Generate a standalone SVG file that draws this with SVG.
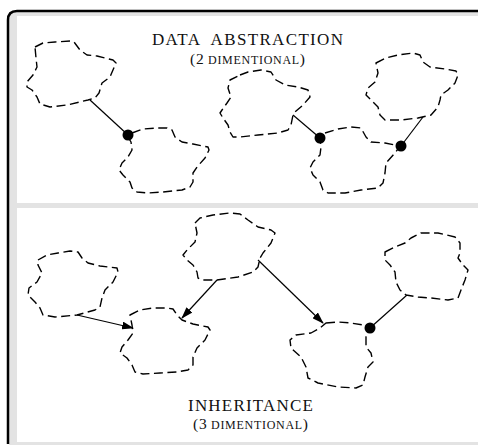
<svg xmlns="http://www.w3.org/2000/svg" width="478" height="445" viewBox="0 0 478 445">
<style>
.cloud{fill:none;stroke:#000;stroke-width:1.4;stroke-dasharray:9 4.5;stroke-linejoin:round;stroke-linecap:butt}
.link{stroke:#000;stroke-width:1.2;fill:none}
.dot{fill:#000}
.t{font-family:"Liberation Serif","Times New Roman",serif;fill:#111}
</style>
<defs>
<marker id="ah" markerWidth="12" markerHeight="8" refX="11" refY="4" orient="auto" markerUnits="userSpaceOnUse">
<path d="M0,0 L12,4 L0,8 Z" fill="#000"/>
</marker>
</defs>
<g id="frame">
<rect x="9" y="12" width="469" height="433" fill="#e3e3e3"/>
<rect x="17" y="16" width="461" height="187" fill="#fff"/>
<rect x="17" y="208" width="461" height="234" fill="#fff"/>
<path d="M8,444 L8,20 Q8,11 17,11 L478,11" fill="none" stroke="#000" stroke-width="2.5"/>
</g>
<g id="connectors">
<line class="link" x1="90" y1="100" x2="128" y2="135"/>
<line class="link" x1="293" y1="115" x2="320" y2="138"/>
<line class="link" x1="423" y1="117" x2="401" y2="146"/>
<line class="link" x1="77" y1="315" x2="133" y2="328" marker-end="url(#ah)"/>
<line class="link" x1="217" y1="280" x2="182" y2="318" marker-end="url(#ah)"/>
<line class="link" x1="258" y1="260" x2="323" y2="323" marker-end="url(#ah)"/>
<line class="link" x1="407" y1="295" x2="370" y2="328"/>
<circle class="dot" cx="128" cy="135" r="5.5"/>
<circle class="dot" cx="320" cy="138" r="5.5"/>
<circle class="dot" cx="401" cy="146" r="5.5"/>
<circle class="dot" cx="370" cy="328" r="5.5"/>
</g>
<g id="cloudA"><polygon class="cloud" points="35,47 43,43 55,42 70,41 74,42 80,50 87,55 97,56 113,60 116,63 110,77 102,83 99,93 95,98 88,100 67,105 50,107 40,104 37,97 32,90 27,87 27,82 33,75 37,67 36,58"/></g>
<g id="cloudB"><polygon class="cloud" points="132,133 143,129 157,128 167,128 172,130 175,137 182,142 193,144 208,147 209,150 205,158 197,167 193,173 193,182 190,187 182,190 163,192 147,193 137,192 132,188 130,182 123,175 119,170 122,163 128,157 132,150 131,142 128,137"/></g>
<g id="cloudC"><polygon class="cloud" points="240,75 248,72 261,70 271,72 276,80 285,85 298,87 308,90 310,97 303,105 295,112 293,115 291,125 288,130 278,133 258,135 240,137 233,137 230,132 228,125 223,118 220,113 222,110 227,103 231,97 228,88 230,80"/></g>
<g id="cloudD"><polygon class="cloud" points="325,133 338,129 351,127 361,128 366,137 371,142 385,143 400,146 395,153 386,163 385,173 383,183 378,188 361,190 345,193 328,193 323,190 320,182 313,175 310,168 313,162 320,155 321,147 320,140"/></g>
<g id="cloudE"><polygon class="cloud" points="376,63 386,58 398,55 413,53 420,55 423,62 430,67 445,69 456,71 458,75 455,83 448,90 441,95 440,100 438,107 431,115 418,118 401,120 385,120 380,115 378,107 371,100 366,95 368,88 375,82 378,73"/></g>
<g id="cloudF"><polygon class="cloud" points="38,260 47,255 58,253 70,251 78,252 82,258 88,263 100,266 117,268 118,272 113,282 105,290 102,298 100,307 95,310 77,315 55,317 43,315 40,308 35,302 28,295 29,288 37,282 42,273 38,265"/></g>
<g id="cloudG"><polygon class="cloud" points="130,315 140,310 153,308 167,308 173,309 177,315 182,320 193,324 208,327 210,330 205,340 197,348 193,357 193,365 188,370 177,372 160,373 143,374 135,372 132,365 127,358 120,353 122,347 128,340 133,333 132,325"/></g>
<g id="cloudH"><polygon class="cloud" points="195,223 200,218 213,215 230,213 240,214 248,220 258,227 271,230 275,233 271,243 263,253 260,258 258,267 253,272 238,277 217,280 202,280 198,278 197,272 193,265 187,260 183,255 187,250 195,242 197,233"/></g>
<g id="cloudI"><polygon class="cloud" points="326,323 338,322 351,323 363,325 370,328 366,337 366,347 371,353 373,362 368,367 365,377 363,385 356,388 338,387 318,383 308,378 306,367 301,357 291,348 290,340 296,335 311,333 320,328"/></g>
<g id="cloudJ"><polygon class="cloud" points="385,252 395,247 405,243 411,238 421,233 438,233 455,237 460,243 460,253 458,258 463,265 468,270 465,280 461,290 458,298 448,300 431,298 418,297 406,295 400,290 396,282 395,272 390,265 385,260"/></g>
<g id="labels">
<text class="t" x="152" y="45" font-size="17" textLength="191" lengthAdjust="spacing" xml:space="preserve">DATA  ABSTRACTION</text>
<text class="t" x="190" y="64" font-size="15.5" textLength="115" lengthAdjust="spacing">(2<tspan font-size="12"> DIMENTIONAL</tspan>)</text>
<text class="t" x="188" y="411" font-size="17" textLength="125" lengthAdjust="spacing">INHERITANCE</text>
<text class="t" x="193" y="429" font-size="15.5" textLength="115" lengthAdjust="spacing">(3<tspan font-size="12"> DIMENTIONAL</tspan>)</text>
</g>
</svg>
